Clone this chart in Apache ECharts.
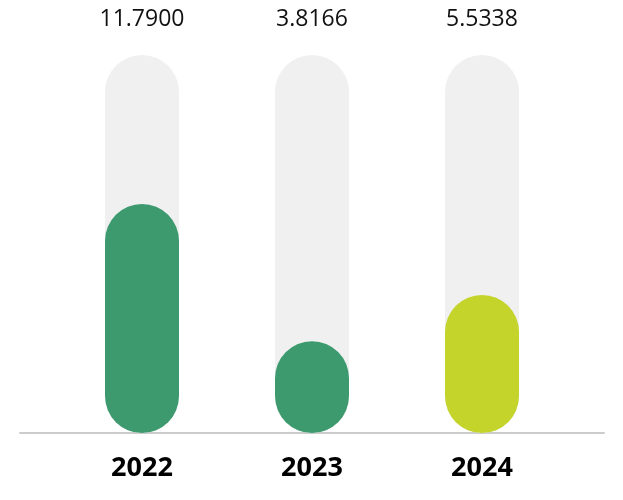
<!DOCTYPE html>
<html>
<head>
<meta charset="utf-8">
<script src="https://cdn.jsdelivr.net/npm/echarts@6/dist/echarts.min.js"></script>
<style>
  html, body { margin: 0; padding: 0; background: #fff; }
  #main { width: 623px; height: 500px; }
</style>
</head>
<body>
<div id="main"></div>
<script>
// data
let years = ["2022", "2023", "2024"];
let shownValues = ["11.7900", "3.8166", "5.5338"];
let barValues = [60.6, 24.3, 36.5];   // share of the full track
let trackMax = 100;

let barColors = ["#3d9a6f", "#3d9a6f", "#c4d42b"];

const chart = echarts.init(document.querySelector("#main"));

const getOption = () => {
  return {
    animation: false,
    textStyle: { fontFamily: "Open Sans" },
    grid: [
      { left: 57, right: 56, top: 55, bottom: 67 },
      { left: 20, right: 19, top: 55, bottom: 67 }
    ],
    xAxis: [
      {
        type: "category",
        gridIndex: 0,
        data: years,
        axisLine: { show: false },
        axisTick: { show: false },
        axisLabel: {
          margin: 22,
          fontSize: 27,
          fontWeight: "bold",
          color: "#000"
        }
      },
      {
        type: "category",
        gridIndex: 0,
        position: "top",
        data: shownValues,
        axisLine: { show: false },
        axisTick: { show: false },
        axisLabel: {
          margin: 24,
          fontSize: 23,
          color: "#111"
        }
      },
      {
        type: "category",
        gridIndex: 1,
        data: years,
        axisLine: { show: true, lineStyle: { color: "#cccccc", width: 2 } },
        axisTick: { show: false },
        axisLabel: { show: false }
      }
    ],
    yAxis: [
      { type: "value", gridIndex: 0, min: 0, max: trackMax, show: false },
      { type: "value", gridIndex: 1, min: 0, max: trackMax, show: false }
    ],
    series: [
      {
        type: "bar",
        xAxisIndex: 0,
        yAxisIndex: 0,
        barWidth: 74,
        showBackground: true,
        backgroundStyle: { color: "#f0f0f0", borderRadius: 37 },
        itemStyle: { borderRadius: 37 },
        data: barValues.map((val, id) => ({
          value: val,
          itemStyle: { color: barColors[id] }
        }))
      }
    ]
  };
};

chart.setOption(getOption());
</script>
</body>
</html>
